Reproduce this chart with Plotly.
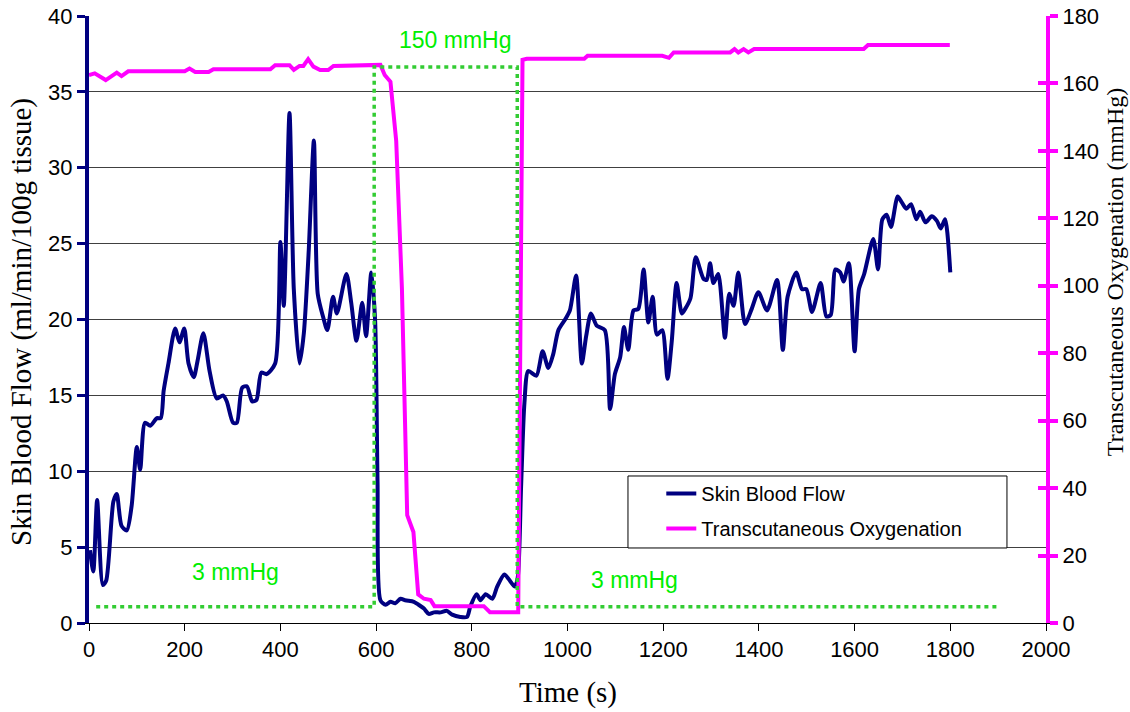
import plotly.graph_objects as go

# Skin blood flow (left axis, ml/min/100g tissue)
sbf_t = [2, 9, 17, 29, 36, 51, 58, 68, 79, 89, 100, 107, 117, 128, 142, 150, 156, 166, 180, 189,
         199, 208, 219, 227, 239, 252, 267, 280, 288, 301, 309, 320, 330, 341, 350, 360, 371, 389,
         400, 407, 419, 428, 440, 449, 459, 470, 478, 489, 498, 510, 518, 538, 548, 559, 571, 579,
         590, 598, 603, 609, 620, 630, 640, 651, 661, 679, 689, 700, 710, 721, 735, 748, 759, 776,
         790, 797, 810, 818, 829, 843, 853, 868, 877, 890, 896, 903, 910, 918, 935, 948, 960, 970,
         981, 995, 1005, 1018, 1030, 1039, 1049, 1061, 1078, 1089, 1099, 1110, 1118, 1127, 1138,
         1148, 1159, 1169, 1178, 1187, 1198, 1209, 1218, 1228, 1239, 1246, 1257, 1268, 1284, 1291,
         1298, 1305, 1315, 1329, 1338, 1347, 1357, 1371, 1385, 1399, 1417, 1438, 1450, 1460, 1478,
         1490, 1499, 1511, 1529, 1541, 1550, 1560, 1570, 1577, 1588, 1600, 1609, 1620, 1639, 1649,
         1658, 1667, 1676, 1690, 1699, 1708, 1718, 1729, 1737, 1748, 1761, 1772, 1780, 1789, 1800]
sbf_v = [4.8, 3.4, 8.1, 2.5, 2.8, 8.0, 8.5, 6.4, 6.1, 7.7, 11.6, 10.1, 13.2, 13.0, 13.5, 13.5, 15.3,
         17.1, 19.4, 18.5, 19.4, 17.1, 16.2, 17.3, 19.1, 16.6, 14.8, 15.0, 14.6, 13.2, 13.2, 15.5,
         15.6, 14.6, 14.7, 16.5, 16.4, 17.1, 25.1, 20.9, 33.6, 22.0, 17.1, 19.1, 24.4, 31.8, 21.7,
         20.2, 19.3, 21.5, 20.4, 23.0, 21.1, 18.6, 21.1, 18.9, 23.1, 19.9, 9.3, 1.5, 1.2, 1.4, 1.3,
         1.6, 1.5, 1.4, 1.2, 0.95, 0.6, 0.7, 0.7, 0.8, 0.55, 0.4, 0.4, 1.1, 1.9, 1.5, 1.9, 1.6, 2.4,
         3.2, 2.9, 2.4, 3.0, 9.0, 14.5, 16.6, 16.3, 17.9, 16.8, 17.7, 19.3, 20.0, 20.6, 22.9, 17.1,
         18.9, 20.4, 19.6, 19.3, 14.1, 16.4, 17.5, 19.5, 18.0, 20.6, 20.7, 23.3, 19.8, 21.5, 19.0,
         19.3, 16.1, 18.6, 22.4, 20.4, 20.7, 21.4, 24.1, 22.7, 22.6, 23.7, 22.4, 23.0, 18.8, 21.7,
         20.9, 23.1, 19.7, 20.7, 21.8, 20.6, 22.6, 18.0, 21.5, 23.1, 22.0, 22.0, 20.5, 22.4, 20.2,
         20.3, 23.3, 23.1, 22.5, 23.7, 17.9, 22.0, 23.0, 25.3, 23.3, 26.6, 26.9, 26.1, 28.1, 27.7,
         27.3, 27.6, 26.6, 27.1, 26.4, 26.8, 26.5, 26.0, 26.6, 23.1]

# Transcutaneous oxygenation (right axis, mmHg)
tc_t = [0, 12, 35, 58, 68, 82, 200, 210, 222, 250, 260, 379, 389, 419, 428, 440, 448, 458, 469,
        483, 500, 511, 609, 618, 630, 642, 654, 665, 678, 688, 700, 714, 722, 825, 838, 897, 906,
        915, 1035, 1042, 1198, 1212, 1222, 1340, 1349, 1357, 1368, 1378, 1390, 1619, 1628, 1799]
tc_v = [162.5, 163.0, 161.0, 163.2, 162.2, 163.6, 163.6, 164.4, 163.4, 163.4, 164.2, 164.2, 165.4,
        165.4, 164.0, 165.2, 165.2, 167.2, 165.0, 164.0, 164.0, 165.2, 165.5, 162.5, 160.5, 143.0,
        99.0, 32.0, 27.0, 8.5, 7.2, 6.8, 5.0, 5.0, 3.2, 3.2, 167.0, 167.3, 167.3, 168.2, 168.2,
        167.6, 169.2, 169.2, 170.2, 169.2, 170.2, 169.2, 170.2, 170.2, 171.4, 171.4]

# Applied pressure protocol (dotted green, right axis units)
pr_t = [15, 596, 596, 895, 895, 1900]
pr_v = [4.8, 4.8, 164.9, 164.9, 4.8, 4.8]

# Pressure labels
lab_text = ["150 mmHg", "3 mmHg", "3 mmHg"]
lab_t = [765, 307, 1141]
lab_y = [38.4, 3.36, 2.83]

NAVY = "#000080"
MAG = "#FF00FF"
SANS = "Liberation Sans, Arial, sans-serif"
SERIF = "Liberation Serif, Times New Roman, serif"

fig = go.Figure()
fig.add_trace(go.Scatter(x=sbf_t, y=sbf_v, name="Skin Blood Flow", mode="lines",
                         line=dict(color=NAVY, width=4, shape="spline", smoothing=0.7),
                         legendgroup="a", yaxis="y"))
fig.add_trace(go.Scatter(x=tc_t, y=tc_v, name="Transcutaneous Oxygenation", mode="lines",
                         line=dict(color=MAG, width=4), legendgroup="b", yaxis="y2"))
fig.add_trace(go.Scatter(x=pr_t, y=pr_v, mode="lines", showlegend=False, hoverinfo="skip",
                         line=dict(color="#33CC33", width=3.5, dash="4px,4px"), yaxis="y2"))
fig.add_trace(go.Scatter(x=[0], y=[0], mode="none", showlegend=False, hoverinfo="skip", yaxis="y3"))

annos = []
for txt, tx, ty in zip(lab_text, lab_t, lab_y):
    annos.append(dict(x=tx, y=ty, xref="x", yref="y", text=txt, showarrow=False,
                      font=dict(family=SANS, size=23, color="#00EE00"),
                      xanchor="center", yanchor="middle"))
annos += [
    dict(x=-0.070, y=0.496, xref="paper", yref="paper", text="Skin Blood Flow (ml/min/100g tissue)",
         textangle=-90, showarrow=False, font=dict(family=SERIF, size=29, color="black"),
         xanchor="center", yanchor="middle"),
    dict(x=1.0721, y=0.578, xref="paper", yref="paper", text="Transcutaneous Oxygenation (mmHg)",
         textangle=-90, showarrow=False, font=dict(family=SERIF, size=24, color="black"),
         xanchor="center", yanchor="middle"),
    dict(x=0.5, y=-0.115, xref="paper", yref="paper", text="Time (s)", showarrow=False,
         font=dict(family=SERIF, size=29, color="black"), xanchor="center", yanchor="middle"),
]

fig.update_layout(
    width=1130, height=712,
    margin=dict(l=89, r=84, t=16, b=89, autoexpand=False),
    paper_bgcolor="white", plot_bgcolor="white",
    font=dict(family=SANS, size=22, color="black"),
    showlegend=True,
    legend=dict(x=0.598, y=0.2455, xanchor="left", yanchor="top", bgcolor="rgba(0,0,0,0)",
                borderwidth=0, font=dict(family=SANS, size=20, color="black"),
                tracegroupgap=6, traceorder="grouped"),
    xaxis=dict(range=[0, 2000], dtick=200, tick0=0, showgrid=False, zeroline=False,
               showline=True, linecolor="black", linewidth=1, ticks="outside", ticklen=7,
               tickcolor="black", tickwidth=1, tickfont=dict(family=SANS, size=22),
               automargin=False),
    yaxis=dict(range=[0, 40], dtick=5, tick0=0, showgrid=True, gridcolor="#404040", gridwidth=1,
               zeroline=False, showline=True, linecolor=NAVY, linewidth=4, ticks="outside",
               ticklen=8, tickwidth=3, tickcolor=NAVY, tickfont=dict(family=SANS, size=22),
               automargin=False),
    yaxis2=dict(range=[0, 180], dtick=20, tick0=0, overlaying="y", side="right", anchor="x",
                showgrid=False, zeroline=False, showline=True, linecolor=MAG, linewidth=4,
                ticks="outside", ticklen=8, tickwidth=3.5, tickcolor=MAG,
                tickfont=dict(family=SANS, size=22), automargin=False),
    yaxis3=dict(range=[0, 180], dtick=20, tick0=0, overlaying="y", side="right", anchor="x",
                showgrid=False, zeroline=False, showline=False, ticks="inside", ticklen=8,
                tickwidth=3.5, tickcolor=MAG, showticklabels=False, automargin=False),
    shapes=[dict(type="rect", xref="paper", yref="paper", x0=0.5632, x1=0.9592, y0=0.1236,
                 y1=0.2422, line=dict(color="black", width=1), fillcolor="white", layer="above")],
    annotations=annos,
)

# remove the default 8px page margin so the figure fills the window from its top-left corner
fig.write_html("out.html", config={"displayModeBar": False},
               post_script="document.body.style.margin='0px';")
